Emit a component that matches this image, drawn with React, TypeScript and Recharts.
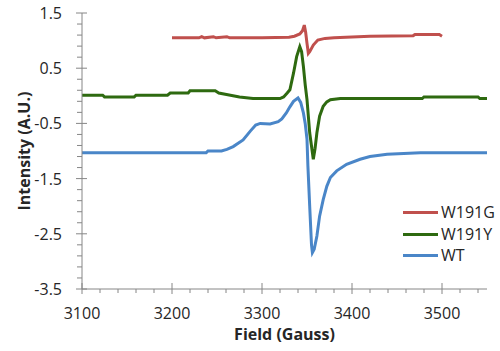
import React from 'react';
import { LineChart, Line, XAxis, YAxis, Legend, Label } from 'recharts';

const fieldW191G = [3200, 3230, 3233, 3236, 3246, 3249, 3261, 3264, 3300, 3330, 3336, 3342, 3345, 3347, 3348.5, 3350, 3351.5, 3353, 3357, 3362, 3370, 3380, 3420, 3468, 3470, 3497, 3500];
const intW191G = [1.05, 1.05, 1.07, 1.05, 1.07, 1.05, 1.07, 1.05, 1.05, 1.06, 1.08, 1.12, 1.18, 1.28, 1.15, 0.95, 0.77, 0.80, 0.92, 1.01, 1.04, 1.05, 1.08, 1.09, 1.11, 1.11, 1.08];

const fieldW191Y = [3100, 3123, 3125, 3158, 3160, 3195, 3198, 3218, 3220, 3248, 3252, 3262, 3275, 3290, 3320, 3324, 3328, 3331, 3335, 3338.5, 3342, 3344, 3346, 3348, 3350, 3353, 3357, 3359, 3361, 3364, 3368, 3372, 3376, 3387, 3478, 3480, 3540, 3542, 3550];
const intW191Y = [0.01, 0.01, -0.02, -0.02, 0.01, 0.01, 0.05, 0.05, 0.09, 0.09, 0.05, 0.02, -0.02, -0.05, -0.05, -0.02, 0.05, 0.11, 0.41, 0.71, 0.89, 0.80, 0.53, 0.2, -0.07, -0.67, -1.15, -0.95, -0.67, -0.37, -0.19, -0.11, -0.07, -0.05, -0.05, -0.02, -0.02, -0.05, -0.05];

const fieldWT = [3100, 3238, 3240, 3255, 3261, 3268, 3279, 3287, 3293, 3298, 3309, 3318, 3322, 3327, 3331, 3335, 3340, 3343, 3346, 3348, 3350, 3351, 3353, 3355, 3356, 3358, 3361, 3364, 3368, 3372, 3376, 3383, 3394, 3409, 3420, 3439, 3476, 3550];
const intWT = [-1.03, -1.03, -1.00, -1.00, -0.97, -0.92, -0.80, -0.64, -0.53, -0.50, -0.51, -0.47, -0.42, -0.31, -0.20, -0.10, -0.04, -0.12, -0.31, -0.5, -0.79, -1.27, -2.0, -2.7, -2.84, -2.78, -2.54, -2.18, -1.88, -1.64, -1.48, -1.36, -1.24, -1.15, -1.10, -1.06, -1.03, -1.03];

const xTicks = [3100, 3120, 3140, 3160, 3180, 3200, 3220, 3240, 3260, 3280, 3300, 3320, 3340, 3360, 3380, 3400, 3420, 3440, 3460, 3480, 3500, 3520, 3540];
const xMajor = [3100, 3200, 3300, 3400, 3500];
const yTicks = [-3.5, -3.3, -3.1, -2.9, -2.7, -2.5, -2.3, -2.1, -1.9, -1.7, -1.5, -1.3, -1.1, -0.9, -0.7, -0.5, -0.3, -0.1, 0.1, 0.3, 0.5, 0.7, 0.9, 1.1, 1.3, 1.5];
const yMajor = [-3.5, -2.5, -1.5, -0.5, 0.5, 1.5];

const zip = (xs: number[], ys: number[]) => xs.map((x, i) => ({ x, y: ys[i] }));
const dataW191G = zip(fieldW191G, intW191G);
const dataW191Y = zip(fieldW191Y, intW191Y);
const dataWT = zip(fieldWT, intWT);

const FONT = '"Open Sans", sans-serif';
const AXIS = '#868686';

const XTick = (props: any) => {
  const { x, y, payload } = props;
  const major = xMajor.includes(payload.value);
  return (
    <g>
      <line x1={x} x2={x} y1={major ? y - 6 : y} y2={major ? y + 5 : y + 4} stroke={AXIS} strokeWidth={1} />
      {major && (
        <text x={x} y={y + 24} textAnchor="middle" dominantBaseline="central" fontFamily={FONT} fontSize={16} fill="#262626">
          {payload.value}
        </text>
      )}
    </g>
  );
};

const YTick = (props: any) => {
  const { x, y, payload } = props;
  const major = yMajor.some((v) => Math.abs(v - payload.value) < 1e-6);
  return (
    <g>
      <line x1={major ? x - 6 : x - 5} x2={major ? x + 5 : x} y1={y} y2={y} stroke={AXIS} strokeWidth={1} />
      {major && (
        <text x={x - 20} y={y} textAnchor="end" dominantBaseline="central" fontFamily={FONT} fontSize={16} fill="#262626">
          {payload.value.toFixed(1)}
        </text>
      )}
    </g>
  );
};

const LegendContent = (props: any) => {
  const { payload } = props;
  return (
    <div style={{ fontFamily: FONT, fontSize: 16, color: '#262626', lineHeight: '21.5px' }}>
      {(payload || []).map((p: any) => (
        <div key={p.value} style={{ display: 'flex', alignItems: 'center', height: 21.5 }}>
          <div style={{ width: 35, height: 3, background: p.color, marginRight: 3 }} />
          <span>{p.value}</span>
        </div>
      ))}
    </div>
  );
};

export default function App() {
  return (
    <div style={{ position: 'absolute', left: 0, top: 0, width: 500, height: 351, background: '#fff' }}>
      <LineChart width={500} height={351} margin={{ top: 13, right: 13, left: 0, bottom: 0 }}>
        <XAxis
          type="number"
          dataKey="x"
          domain={[3100, 3550]}
          ticks={xTicks}
          interval={0}
          allowDataOverflow
          stroke={AXIS}
          tickLine={false}
          tickSize={0}
          tickMargin={0}
          height={62}
          tick={<XTick />}
        >
          <Label
            content={(p: any) => {
              const vb = p.viewBox;
              return (
                <text x={vb.x + vb.width / 2} y={vb.y + 45} textAnchor="middle" dominantBaseline="central" fontFamily={FONT} fontWeight="bold" fontSize={16} fill="#262626">
                  Field (Gauss)
                </text>
              );
            }}
          />
        </XAxis>
        <YAxis
          type="number"
          dataKey="y"
          domain={[-3.5, 1.5]}
          ticks={yTicks}
          interval={0}
          allowDataOverflow
          stroke={AXIS}
          tickLine={false}
          tickSize={0}
          tickMargin={0}
          width={82}
          tick={<YTick />}
        >
          <Label
            content={(p: any) => {
              const vb = p.viewBox;
              const cx = 24;
              const cy = vb.y + vb.height / 2;
              return (
                <text x={cx} y={cy} transform={`rotate(-90 ${cx} ${cy})`} textAnchor="middle" dominantBaseline="central" fontFamily={FONT} fontWeight="bold" fontSize={16} fill="#262626">
                  Intensity (A.U.)
                </text>
              );
            }}
          />
        </YAxis>
        <Legend
          layout="vertical"
          align="center"
          verticalAlign="middle"
          content={<LegendContent />}
          wrapperStyle={{ position: 'absolute', left: 403, top: 202, width: 100 }}
        />
        <Line data={dataW191G} dataKey="y" name="W191G" stroke="#C0504D" strokeWidth={3} dot={false} isAnimationActive={false} type="linear" />
        <Line data={dataW191Y} dataKey="y" name="W191Y" stroke="#2E6A10" strokeWidth={3} dot={false} isAnimationActive={false} type="linear" />
        <Line data={dataWT} dataKey="y" name="WT" stroke="#4A86C8" strokeWidth={3} dot={false} isAnimationActive={false} type="linear" />
      </LineChart>
    </div>
  );
}
